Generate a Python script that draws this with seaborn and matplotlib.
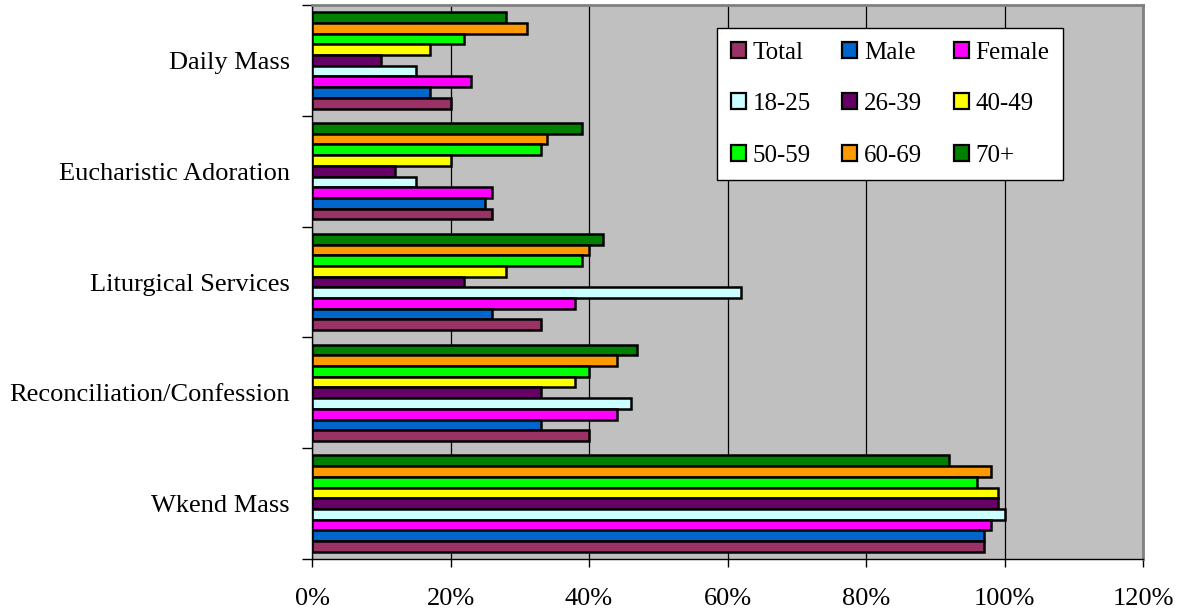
import pandas as pd
import matplotlib
matplotlib.use('Agg')
import matplotlib.pyplot as plt
import seaborn as sns
from matplotlib.patches import Patch
from matplotlib.ticker import PercentFormatter, FixedLocator

# 데이터 (percent)
activities = ['Daily Mass', 'Eucharistic Adoration', 'Liturgical Services',
              'Reconciliation/Confession', 'Wkend Mass']
groups = ['Total', 'Male', 'Female', '18-25', '26-39', '40-49', '50-59', '60-69', '70+']

total = [20, 26, 33, 40, 97]
male = [17, 25, 26, 33, 97]
female = [23, 26, 38, 44, 98]
age_18_25 = [15, 15, 62, 46, 100]
age_26_39 = [10, 12, 22, 33, 99]
age_40_49 = [17, 20, 28, 38, 99]
age_50_59 = [22, 33, 39, 40, 96]
age_60_69 = [31, 34, 40, 44, 98]
age_70 = [28, 39, 42, 47, 92]

colors = ['#993366', '#0066CC', '#FF00FF', '#CCFFFF', '#660066',
          '#FFFF00', '#00FF00', '#FF9900', '#008000']

series = [total, male, female, age_18_25, age_26_39, age_40_49, age_50_59, age_60_69, age_70]
rows = []
for g, vals in zip(groups, series):
    for a, v in zip(activities, vals):
        rows.append({'activity': a, 'group': g, 'value': v})
df = pd.DataFrame(rows)
palette = dict(zip(groups, colors))

plt.rcParams['font.family'] = ['Liberation Serif', 'DejaVu Serif']
plt.rcParams['font.size'] = 19

fig = plt.figure(figsize=(11.85, 6.14), dpi=100)
ax = fig.add_axes([312 / 1185, 1 - 559 / 614, (1143 - 312) / 1185, (559 - 5) / 614])
ax.set_facecolor('#C0C0C0')
ax.set_axisbelow(True)

# 70+ 가 위쪽에 오도록 hue 순서 뒤집기
sns.barplot(data=df, x='value', y='activity', hue='group', order=activities,
            hue_order=groups[::-1], palette=palette, orient='h', width=0.87,
            saturation=1, edgecolor='black', linewidth=1.8, legend=False, ax=ax)

ax.set_xlim(0, 120)
ax.set_ylim(4.5, -0.5)
ax.xaxis.set_major_formatter(PercentFormatter(xmax=100, decimals=0))
ax.set_xticks(range(0, 121, 20))
ax.grid(axis='x', color='black', linewidth=0.9)
ax.tick_params(axis='x', direction='out', length=6, width=1, pad=15, labelsize=19)

# y축: 경계에 눈금, 라벨은 가운데
ax.yaxis.set_major_locator(FixedLocator([i - 0.5 for i in range(6)]))
ax.yaxis.set_minor_locator(FixedLocator(range(5)))
ax.yaxis.set_major_formatter(plt.NullFormatter())
ax.set_yticklabels(activities, minor=True)
ax.tick_params(axis='y', which='major', direction='out', length=7, width=1)
ax.tick_params(axis='y', which='minor', length=0, pad=16, labelsize=19)
ax.set_xlabel('')
ax.set_ylabel('')

for s in ['top', 'right']:
    ax.spines[s].set_color('#808080')
    ax.spines[s].set_linewidth(2)
for s in ['left', 'bottom']:
    ax.spines[s].set_color('black')
    ax.spines[s].set_linewidth(1)

# 범례 (행 우선 순서로 보이도록 재배치)
handles = [Patch(facecolor=c, edgecolor='black', linewidth=1.6, label=g)
           for g, c in zip(groups, colors)]
order = [0, 3, 6, 1, 4, 7, 2, 5, 8]
leg = ax.legend([handles[i] for i in order], [groups[i] for i in order],
                ncol=3, loc='upper left', bbox_to_anchor=(0.4874, 0.9585),
                frameon=True, fancybox=False, framealpha=1, edgecolor='black',
                handlelength=0.6, handleheight=0.6, handletextpad=0.28,
                columnspacing=1.25, labelspacing=1.18, borderpad=0.55,
                fontsize=18, borderaxespad=0)
leg.get_frame().set_linewidth(1)

plt.savefig('out.png', dpi=100)
